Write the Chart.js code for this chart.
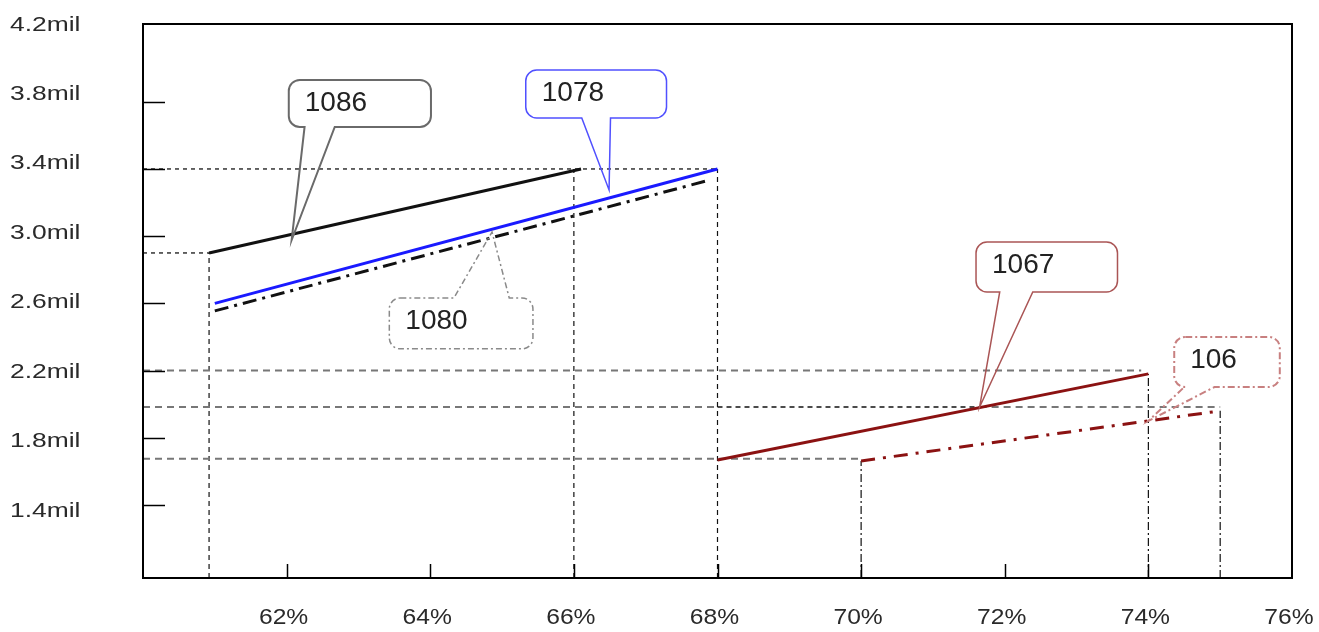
<!DOCTYPE html>
<html><head><meta charset="utf-8">
<script src="https://cdn.jsdelivr.net/npm/chart.js@4.4.1/dist/chart.umd.min.js"></script>
<style>html,body{margin:0;padding:0;background:#fff;}#wrap{width:1319px;height:632px;}</style>
</head><body><div id="wrap"><canvas id="c" width="1319" height="632"></canvas></div>
<script>
// ---- data ----
const seriesNames = ['1086', '1078', '1080', '1067', '106'];
const xStart = [60.92, 61.0, 61.0, 68.0, 70.0];
const xEnd   = [66.1, 68.0, 67.9, 74.0, 75.0];
const yStart = [2.90, 2.60, 2.555, 1.668, 1.662];
const yEnd   = [3.40, 3.40, 3.335, 2.18, 1.96];

const yTickValues = [1.4, 1.8, 2.2, 2.6, 3.0, 3.4, 3.8, 4.2];
const yTickLabels = ['1.4mil', '1.8mil', '2.2mil', '2.6mil', '3.0mil', '3.4mil', '3.8mil', '4.2mil'];
const xTickValues = [62, 64, 66, 68, 70, 72, 74, 76];
const xTickLabels = ['62%', '64%', '66%', '68%', '70%', '72%', '74%', '76%'];

// reference (drop) lines
const hGuideY      = [3.4, 2.9, 2.2, 1.983, 1.983, 1.675, 1.983];
const hGuideXStart = [60, 60, 60, 60, 71.65, 60, 68];
const hGuideXEnd   = [68, 60.92, 73.9, 68, 75, 70, 71.65];
const vGuideX    = [60.92, 66, 68, 70, 74, 75];
const vGuideYTop = [2.9, 3.4, 3.4, 1.662, 2.18, 1.96];

// callouts (data units): box left, right, top, bottom; pointer base a,b; tip x,y
const calloutText = ['1086', '1078', '1080', '1067', '106'];
const calloutBox = [
  [62.03, 64.01, 3.93, 3.65],
  [65.33, 67.29, 3.989, 3.704],
  [63.43, 65.43, 2.632, 2.329],
  [71.60, 73.57, 2.965, 2.668],
  [74.36, 75.83, 2.40, 2.102]
];
const calloutBase = [[62.25, 62.67], [66.11, 66.51], [64.33, 65.10], [71.93, 72.39], [74.50, 74.92]];
const calloutTip  = [[62.07, 2.977], [66.49, 3.275], [64.86, 3.025], [71.65, 1.983], [74.0, 1.90]];
const calloutSide = ['bottom', 'bottom', 'top', 'bottom', 'bottom'];

// ---- styles ----
const lineColors = ['#111111', '#1a1aff', '#111111', '#8b1212', '#8b1212'];
const lineDash = [[], [], [14, 6, 3, 6], [], [14, 8, 3, 8]];
const calloutColors = ['#6a6a6a', '#5050ff', '#8a8a8a', '#aa5555', '#c88080'];
const calloutDash = [[], [], [6, 3, 2, 3], [], [7, 3, 2, 3]];
const calloutWidth = [2, 1.5, 1.5, 1.5, 2];
const hGuideColor = ['#000', '#000', '#777', '#777', '#777', '#777', '#111'];
const hGuideWidth = [1.2, 1.2, 2, 2, 2, 2, 1.3];
const hGuideDash = [[4, 4], [4, 4], [7, 5], [7, 5], [7, 5], [7, 5], [5, 4]];
const vGuideDash = [[5, 4], [5, 4], [5, 4], [8, 3, 2, 3], [8, 3, 2, 3], [8, 3, 2, 3]];

const datasets = [];
for (let i = 0; i < seriesNames.length; i++) {
  datasets.push({
    label: seriesNames[i],
    data: [{x: xStart[i], y: yStart[i]}, {x: xEnd[i], y: yEnd[i]}],
    borderColor: lineColors[i], borderWidth: 3, borderDash: lineDash[i],
    pointRadius: 0, fill: false, tension: 0
  });
}
const Y_MIN = 0.965, Y_MAX = 4.263, X_MIN = 60, X_MAX = 76;
for (let i = 0; i < hGuideY.length; i++) {
  datasets.push({
    label: 'h' + i,
    data: [{x: hGuideXStart[i], y: hGuideY[i]}, {x: hGuideXEnd[i], y: hGuideY[i]}],
    borderColor: hGuideColor[i], borderWidth: hGuideWidth[i], borderDash: hGuideDash[i],
    pointRadius: 0, fill: false
  });
}
for (let i = 0; i < vGuideX.length; i++) {
  datasets.push({
    label: 'v' + i,
    data: [{x: vGuideX[i], y: Y_MIN}, {x: vGuideX[i], y: vGuideYTop[i]}],
    borderColor: '#111', borderWidth: 1.2, borderDash: vGuideDash[i],
    pointRadius: 0, fill: false
  });
}

const FONT = '"Liberation Sans", Arial, sans-serif';

const decor = {
  id: 'decor',
  afterDatasetsDraw(chart) {
    const ctx = chart.ctx, a = chart.chartArea;
    const xs = chart.scales.x, ys = chart.scales.y, yl = chart.scales.yLabels;
    ctx.save();
    // frame
    ctx.strokeStyle = '#000'; ctx.lineWidth = 2; ctx.setLineDash([]);
    ctx.strokeRect(a.left, a.top, a.right - a.left, a.bottom - a.top);
    // inward ticks
    ctx.lineWidth = 1.5;
    yTickValues.forEach(v => {
      if (v >= 4.2) return;
      const y = Math.round(ys.getPixelForValue(v)) + 0.5;
      ctx.beginPath(); ctx.moveTo(a.left, y); ctx.lineTo(a.left + 22, y); ctx.stroke();
    });
    xTickValues.forEach(v => {
      if (v >= 76) return;
      const x = Math.round(xs.getPixelForValue(v)) + 0.5;
      ctx.beginPath(); ctx.moveTo(x, a.bottom); ctx.lineTo(x, a.bottom - 14); ctx.stroke();
    });
    // y tick labels (horizontally stretched like the original)
    ctx.fillStyle = '#2a2a2a'; ctx.font = '20px ' + FONT; ctx.textBaseline = 'middle'; ctx.textAlign = 'left';
    yTickValues.forEach((v, i) => {
      const y = yl.getPixelForValue(v);
      ctx.save(); ctx.translate(10, y); ctx.scale(1.32, 1); ctx.fillText(yTickLabels[i], 0, 0); ctx.restore();
    });
    // x tick labels
    ctx.font = '22px ' + FONT; ctx.textAlign = 'center';
    xTickValues.forEach((v, i) => {
      const x = xs.getPixelForValue(v);
      ctx.save(); ctx.translate(x - 3, a.bottom + 40); ctx.scale(1.12, 1); ctx.fillText(xTickLabels[i], 0, 0); ctx.restore();
    });
    // callouts
    for (let i = 0; i < calloutText.length; i++) {
      const b = calloutBox[i];
      const x1 = xs.getPixelForValue(b[0]), x2 = xs.getPixelForValue(b[1]);
      const y1 = ys.getPixelForValue(b[2]), y2 = ys.getPixelForValue(b[3]);
      const pa = xs.getPixelForValue(calloutBase[i][0]), pb = xs.getPixelForValue(calloutBase[i][1]);
      const tx = xs.getPixelForValue(calloutTip[i][0]), ty = ys.getPixelForValue(calloutTip[i][1]);
      const r = 11;
      ctx.beginPath();
      ctx.moveTo(x1 + r, y1);
      if (calloutSide[i] === 'top') { ctx.lineTo(pa, y1); ctx.lineTo(tx, ty); ctx.lineTo(pb, y1); }
      ctx.lineTo(x2 - r, y1); ctx.arcTo(x2, y1, x2, y1 + r, r);
      ctx.lineTo(x2, y2 - r); ctx.arcTo(x2, y2, x2 - r, y2, r);
      if (calloutSide[i] === 'bottom') { ctx.lineTo(pb, y2); ctx.lineTo(tx, ty); ctx.lineTo(pa, y2); }
      ctx.lineTo(x1 + r, y2); ctx.arcTo(x1, y2, x1, y2 - r, r);
      ctx.lineTo(x1, y1 + r); ctx.arcTo(x1, y1, x1 + r, y1, r);
      ctx.closePath();
      ctx.strokeStyle = calloutColors[i]; ctx.lineWidth = calloutWidth[i]; ctx.setLineDash(calloutDash[i]);
      ctx.stroke();
      ctx.setLineDash([]);
      ctx.fillStyle = '#222'; ctx.font = '28px ' + FONT; ctx.textBaseline = 'middle'; ctx.textAlign = 'left';
      ctx.fillText(calloutText[i], x1 + 16, y1 + 23);
    }
    ctx.restore();
  }
};

new Chart(document.getElementById('c'), {
  type: 'line',
  data: {datasets},
  options: {
    responsive: false, animation: false, devicePixelRatio: 1,
    layout: {padding: {left: 10, top: 24, right: 27, bottom: 0}},
    plugins: {legend: {display: false}, tooltip: {enabled: false}},
    scales: {
      x: {
        type: 'linear', min: X_MIN, max: X_MAX,
        afterBuildTicks: s => { s.ticks = xTickValues.map(v => ({value: v})); },
        afterFit: s => { s.height = 54; },
        grid: {display: false, drawTicks: false}, border: {display: false},
        ticks: {display: false}
      },
      y: {
        type: 'linear', min: Y_MIN, max: Y_MAX,
        afterBuildTicks: s => { s.ticks = yTickValues.map(v => ({value: v})); },
        afterFit: s => { s.width = 133; },
        grid: {display: false, drawTicks: false}, border: {display: false},
        ticks: {display: false}
      },
      yLabels: {
        type: 'linear', position: 'left', min: 1.016, max: 4.206, display: false
      }
    }
  },
  plugins: [decor]
});
</script></body></html>
